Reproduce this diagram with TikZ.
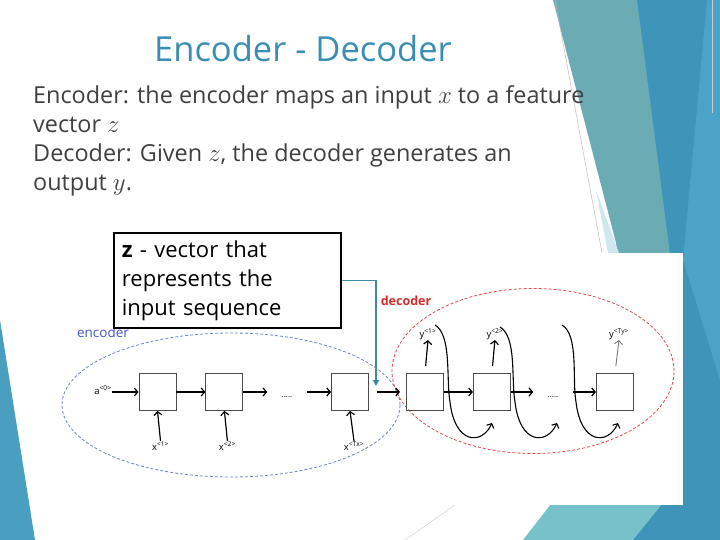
\documentclass[tikz,border=0pt]{standalone}
\usepackage{fontspec}
\setmainfont{Open Sans}
\usetikzlibrary{arrows.meta,positioning,shapes.geometric}

\definecolor{titleblue}{HTML}{3A8DB5}
\definecolor{bodygray}{HTML}{404040}
\definecolor{leftblue}{HTML}{4A9FC0}
\definecolor{deepblue}{HTML}{3F95B9}
\definecolor{brightblue}{HTML}{4BA3C7}
\definecolor{tealA}{HTML}{6AABB4}
\definecolor{tealB}{HTML}{77C1CA}
\definecolor{paleblue}{HTML}{CFE7EE}
\definecolor{zteal}{HTML}{3A8CA6}
\definecolor{encblue}{HTML}{6E86C0}
\definecolor{enclabel}{HTML}{4456C8}
\definecolor{decred}{HTML}{E0484C}
\definecolor{declabel}{HTML}{D42A2A}

\begin{document}
\begin{tikzpicture}[x=1pt, y=-1pt,
    cell/.style={draw=black!70, line width=0.9pt, minimum size=37pt, inner sep=0pt},
    line/.style={-{Straight Barb[length=3.5pt,width=8pt]}, line width=1.2pt},
    feedback/.style={-{Straight Barb[length=3.5pt,width=8pt]}, line width=1.1pt},
    tag/.style={font=\fontsize{9.5}{10}\selectfont, inner sep=0.5pt},
    skipnode/.style={font=\fontsize{8}{9}\selectfont, minimum width=39pt, inner sep=0pt, anchor=base},
    ring/.style={ellipse, draw=#1, dash pattern=on 3pt off 2pt, line width=0.8pt, inner sep=0pt},
    zlink/.style={-{Triangle[length=6pt,width=6pt]}, draw=zteal, line width=1.6pt}
]
\useasboundingbox (0,0) rectangle (720,540);
\fill[white] (0,0) rectangle (720,540);

% slide decoration
\fill[leftblue] (0,320) -- (35,540) -- (0,540) -- cycle;
\fill[deepblue] (630,0) -- (720,0) -- (720,540) -- (600,540) -- cycle;
\fill[brightblue] (707,0) -- (720,0) -- (720,380) -- (683,260) -- cycle;
\fill[tealA] (553,0) -- (637,0) -- (671,262) -- (621,262) -- cycle;
\fill[paleblue] (596,190) -- (619,253) -- (608,253) -- cycle;
\draw[gray!50, line width=0.5pt] (555,0) -- (602,253);
\draw[gray!40, line width=0.5pt] (712,0) -- (712,113);
\fill[tealB] (523,540) -- (551,504) -- (662,504) -- (633,540) -- cycle;
\fill[white] (60,253) rectangle (683,505);
\draw[gray!35, line width=0.5pt] (455,505) -- (405,540);

% texts
\node[text=titleblue, font=\fontsize{34.5}{40}\selectfont] (title) at (303,49) {Encoder - Decoder};
\node[text=bodygray, font=\fontsize{23.4}{29}\selectfont, align=left, anchor=north west, inner sep=0pt] (body) at (33,85)
  {Encoder: the encoder maps an input $x$ to a feature\\
   vector $z$\\
   Decoder: Given $z$, the decoder generates an\\
   output $y$.};

% rings
\node[ring=encblue, minimum width=338pt, minimum height=144pt] (encring) at (231,405) {};
\node[ring=decred, minimum width=282pt, minimum height=165pt] (decring) at (533,371) {};
\node[text=enclabel, font=\fontsize{13.5}{15}\selectfont] (enclab) at (103,332) {encoder};
\node[text=declabel, font=\bfseries\fontsize{12.5}{14}\selectfont] (declab) at (406,301) {decoder};

% encoder cells
\node[cell] (e1) at (157.5,392) {};
\node[cell, right=29pt of e1] (e2) {};
\node[skipnode] (eskip) at (287,397) {.....};
\node[cell] (e3) at (350,392) {};
\node[tag] (a0) at (103,390) {a\textsuperscript{<0>}};
\node[tag, below=30pt of e1, xshift=3pt] (x1) {x\textsuperscript{<1>}};
\node[tag, below=30pt of e2, xshift=3pt] (x2) {x\textsuperscript{<2>}};
\node[tag, below=30pt of e3, xshift=4pt] (xT) {x\textsuperscript{<Tx>}};

% decoder cells
\node[cell] (d1) at (425,392) {};
\node[cell, right=29pt of d1] (d2) {};
\node[skipnode] (dskip) at (553,397) {.....};
\node[cell] (d3) at (615,392) {};
\node[tag, above=33pt of d1, xshift=3pt] (y1) {y\textsuperscript{<1>}};
\node[tag, above=33pt of d2, xshift=3pt] (y2) {y\textsuperscript{<2>}};
\node[tag, above=33pt of d3, xshift=4pt] (yT) {y\textsuperscript{<Ty>}};

% z box
\node[draw=black, line width=1.8pt, fill=white, anchor=north west, minimum width=227pt, minimum height=95pt,
      text width=211pt, align=left, inner xsep=8pt, font=\fontsize{22}{29}\selectfont] (zbox) at (113,232)
  {\textbf{z} - vector that\\represents the\\input sequence};
\coordinate (zend) at (376,386);
\draw[zlink] (zbox.east) -| (zend);

% encoder flow
\draw[line] (a0.east |- e1.west) -- (e1.west);
\draw[line] (e1) -- (e2);
\draw[line] (e2.east) -- (e2.east -| eskip.west);
\draw[line] (eskip.east |- e3.west) -- (e3.west);
\draw[line] (x1.north) -- (e1.south);
\draw[line] (x2.north) -- (e2.south);
\draw[line] (xT.north) -- (e3.south);
\draw[line, shorten <=8pt, shorten >=6pt] (e3) -- (d1);

% decoder flow
\draw[line] (d1) -- (d2);
\draw[line] (d2.east) -- (d2.east -| dskip.west);
\draw[line] (dskip.east |- d3.west) -- (d3.west);
\draw[line, shorten <=7pt] (d1.north) -- (y1.south);
\draw[line, shorten <=7pt] (d2.north) -- (y2.south);
\draw[line, draw=black!55, line width=0.9pt, shorten <=7pt] (d3.north) -- (yT.south);

% fed-back outputs
\coordinate (f1s) at (435,325);
\coordinate (f1e) at (492,423);
\coordinate (f2s) at (500,327);
\coordinate (f2e) at (557,423);
\coordinate (f3s) at (562,325);
\coordinate (f3e) at (618,423);
\draw[feedback] (f1s) .. controls (452,335) and (446,380) .. (450,402) .. controls (455,445) and (482,445) .. (f1e);
\draw[feedback] (f2s) .. controls (517,337) and (511,380) .. (515,402) .. controls (520,445) and (547,445) .. (f2e);
\draw[feedback] (f3s) .. controls (579,335) and (572,380) .. (576,402) .. controls (581,445) and (608,445) .. (f3e);
\end{tikzpicture}
\end{document}
